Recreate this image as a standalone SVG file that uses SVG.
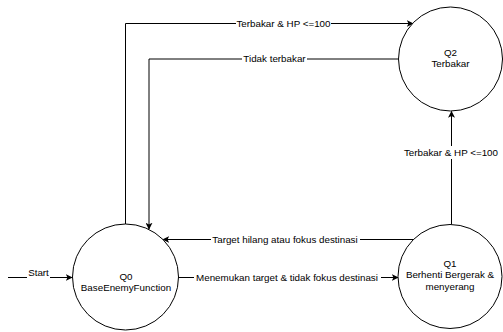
<svg xmlns="http://www.w3.org/2000/svg" width="503" height="332" viewBox="0 0 503 332">
<style>
.node{fill:#fff;stroke:#000;stroke-width:1}
.edge{fill:none;stroke:#000;stroke-width:1}
text{font-family:"Liberation Sans",Arial,sans-serif;font-size:9.8px;fill:#000;text-anchor:middle}
.bg{fill:#fff}
</style>
<defs>
<marker id="arr" viewBox="0 0 10 10" refX="9" refY="5" markerWidth="7" markerHeight="7" markerUnits="userSpaceOnUse" orient="auto">
<path d="M0,0 L10,5 L0,10 L2.5,5 Z" fill="#000"/>
</marker>
</defs>
<rect width="503" height="332" fill="#fff"/>
<g id="connectors">
<g id="e-start">
<path class="edge" d="M8,277.5 L72,277.5" marker-end="url(#arr)"/>
<rect class="bg" x="27" y="266" width="23" height="12"/>
<text x="38.5" y="275.5">Start</text>
</g>
<g id="e-q0-q2">
<path class="edge" d="M125.5,224 L125.5,23.5 L413,23.5" marker-end="url(#arr)"/>
<rect class="bg" x="236" y="17" width="95" height="13"/>
<text x="283.5" y="26.8">Terbakar &amp; HP &lt;=100</text>
</g>
<g id="e-q2-q0">
<path class="edge" d="M398.5,59 L149,59 L149,229" marker-end="url(#arr)"/>
<rect class="bg" x="242" y="53" width="65" height="13"/>
<text x="274.5" y="62.4">Tidak terbakar</text>
</g>
<g id="e-q1-q2">
<path class="edge" d="M451.5,224.5 L451.5,111.5" marker-end="url(#arr)"/>
<rect class="bg" x="403" y="146" width="97" height="13"/>
<text x="451" y="155.5">Terbakar &amp; HP &lt;=100</text>
</g>
<g id="e-q1-q0">
<path class="edge" d="M414,239.5 L163,239.5" marker-end="url(#arr)"/>
<rect class="bg" x="211" y="233" width="149" height="13"/>
<text x="285" y="242.8">Target hilang atau fokus destinasi</text>
</g>
<g id="e-q0-q1">
<path class="edge" d="M178.5,277.5 L398,277.5" marker-end="url(#arr)"/>
<rect class="bg" x="194" y="271" width="187" height="13"/>
<text x="287" y="280.8">Menemukan target &amp; tidak fokus destinasi</text>
</g>
</g>
<g id="Q0">
<circle class="node" cx="125.5" cy="277" r="53"/>
<text x="126" y="279.5">Q0</text>
<text x="126" y="290.8">BaseEnemyFunction</text>
</g>
<g id="Q1">
<circle class="node" cx="450" cy="276.5" r="52"/>
<text x="450" y="267">Q1</text>
<text x="450" y="278.3">Berhenti Bergerak &amp;</text>
<text x="450" y="289.6">menyerang</text>
</g>
<g id="Q2">
<circle class="node" cx="450.5" cy="59" r="52"/>
<text x="450.5" y="55.7">Q2</text>
<text x="450.5" y="67.2">Terbakar</text>
</g>
</svg>
